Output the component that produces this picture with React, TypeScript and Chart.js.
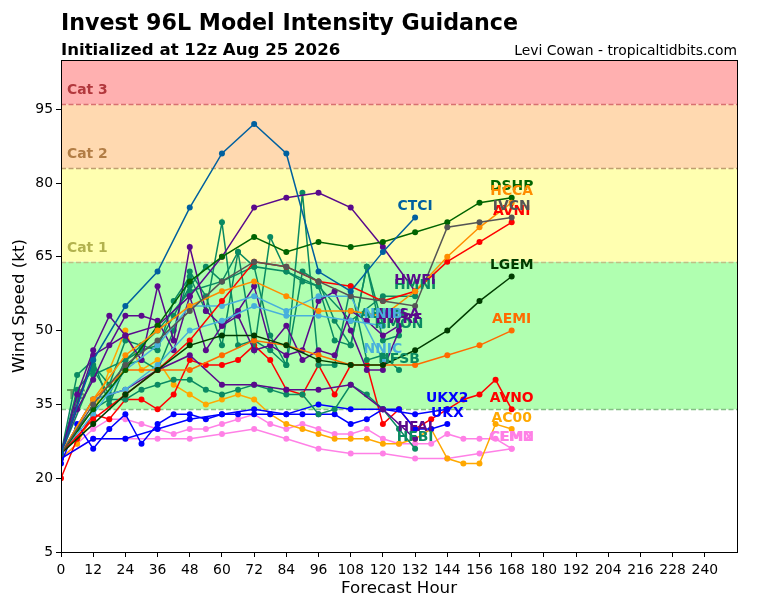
import React, { useEffect, useRef } from "react";
import { Chart, registerables } from "chart.js";

Chart.register(...registerables);

const H6 = [0, 6, 12, 18, 24, 30, 36, 42, 48, 54, 60, 66, 72, 78, 84, 90, 96, 102, 108, 114, 120, 126, 132, 138, 144, 150, 156, 162, 168];
const H12 = [0, 12, 24, 36, 48, 60, 72, 84, 96, 108, 120, 132, 144, 156, 168];

const X_TICKS = [0, 12, 24, 36, 48, 60, 72, 84, 96, 108, 120, 132, 144, 156, 168, 180, 192, 204, 216, 228, 240];
const Y_TICKS = [5, 20, 35, 50, 65, 80, 95];

// wind speed in kt, 6 hourly models
const HWRF = [25, 37, 46, 53, 49, 44, 59, 48, 67, 54, 51, 54, 59, 47, 45, 46, 56, 58, 50, 42, 42, 50];
const HFSA = [25, 34, 40, 47, 53, 53, 52, 46, 57, 46, 51, 53, 46, 47, 51, 44, 46, 45, 54, 52, 49, 51];
const HMON = [25, 41, 44, 35, 43, 44, 42, 50, 62, 57, 47, 66, 46, 69, 62, 60, 59, 48, 47, 63, 48, 49];
const HFSB = [25, 36, 43, 39, 48, 47, 46, 56, 61, 54, 72, 47, 48, 46, 43, 78, 43, 43, 59, 44, 45, 42];
const AEMN = [25, 38, 42, 37, 44, 46, 47, 53, 59, 63, 60, 66, 63, 49, 43, 62, 60, 52, 47, 63, 51];
const HFBI = [25, 30, 34, 36, 36, 38, 39, 40, 40, 38, 37, 38, 39, 38, 37, 37, 33, 34, 39, 37, 34, 30, 26];
const UKX = [23, 31, 26, 30, 33, 27, 31, 33, 33, 32, 33, 33, 33, 33, 33, 33, 33, 33, 31, 32, 34, 34, 30, 30, 31];
const AC00 = [24, 27, 33, 42, 50, 42, 44, 39, 37, 35, 36, 37, 36, 33, 31, 30, 29, 28, 28, 28, 27, 27, 28, 30, 24, 23, 23, 31, 30];
const AVNO = [20, 28, 33, 32, 36, 36, 34, 37, 44, 43, 43, 44, 47, 44, 38, 37, 43, 37, 43, 43, 31, 34, 30, 32, 34, 36, 37, 40, 34];
const CEMN = [24, 27, 30, 32, 32, 31, 30, 29, 30, 30, 31, 32, 33, 31, 30, 31, 30, 29, 29, 30, 28, 27, 27, 27, 29, 28, 28, 28, 26];

// 12 hourly models
const HWFI = [25, 45, 49, 51, 57, 65, 75, 77, 78, 75, 67, 58];
const HFAI = [25, 36, 38, 42, 45, 39, 39, 38, 38, 39, 34, 28];
const HMNI = [25, 41, 44, 50, 58, 60, 63, 62, 59, 52, 57, 57];
const IVCN = [25, 35, 43, 48, 54, 60, 64, 63, 60, 57, 56, 55, 71, 72, 73];
const HCCA = [25, 36, 45, 50, 55, 58, 60, 57, 54, 54, 53, 58, 65, 71, 76];
const AVNI = [25, 32, 37, 42, 48, 56, 64, 63, 60, 59, 56, 58, 64, 68, 72];
const AEMI = [25, 36, 42, 42, 42, 45, 48, 47, 45, 43, 43, 43, 45, 47, 50];
const LGEM = [25, 31, 37, 42, 47, 49, 49, 47, 44, 43, 43, 46, 50, 56, 61];
const DSHP = [25, 34, 42, 51, 60, 65, 69, 66, 68, 67, 68, 70, 72, 76, 77];
const CTCI = [25, 44, 55, 62, 75, 86, 92, 86, 62, 58, 66, 73];
const NNIB = [25, 36, 38, 43, 50, 52, 55, 53, 53, 52, 51];
const NNIC = [25, 33, 42, 47, 55, 55, 57, 54, 57, 57, 44];
const UKX2 = [24, 28, 28, 30, 32, 33, 34, 33, 35, 34, 34, 33, 34];
const CEM2 = [24, 28, 28, 28, 28, 29, 30, 28, 26, 25, 25, 24, 24, 25, 26];

const GREEN = "#0a8a62";
const PURPLE = "#5a0a8c";
const SKY = "#48b0dc";
const PINK = "#ff80e6";
const BLUE = "#0000ff";

const MODELS = [
  { name: "CEM2", color: PINK, hours: H12, values: CEM2 },
  { name: "CEMN", color: PINK, hours: H6, values: CEMN },
  { name: "AC00", color: "#ffa800", hours: H6, values: AC00 },
  { name: "AVNO", color: "#ff0000", hours: H6, values: AVNO },
  { name: "UKX", color: BLUE, hours: H6, values: UKX },
  { name: "UKX2", color: BLUE, hours: H12, values: UKX2 },
  { name: "AEMN", color: GREEN, hours: H6, values: AEMN },
  { name: "HFBI", color: GREEN, hours: H6, values: HFBI },
  { name: "HFSB", color: GREEN, hours: H6, values: HFSB },
  { name: "HMON", color: GREEN, hours: H6, values: HMON },
  { name: "HMNI", color: GREEN, hours: H12, values: HMNI },
  { name: "HFAI", color: PURPLE, hours: H12, values: HFAI },
  { name: "HFSA", color: PURPLE, hours: H6, values: HFSA },
  { name: "HWRF", color: PURPLE, hours: H6, values: HWRF },
  { name: "HWFI", color: PURPLE, hours: H12, values: HWFI },
  { name: "NNIC", color: SKY, hours: H12, values: NNIC },
  { name: "NNIB", color: SKY, hours: H12, values: NNIB },
  { name: "AEMI", color: "#ff6a00", hours: H12, values: AEMI },
  { name: "DSHP", color: "#006400", hours: H12, values: DSHP },
  { name: "AVNI", color: "#ff0000", hours: H12, values: AVNI },
  { name: "HCCA", color: "#ff8c00", hours: H12, values: HCCA },
  { name: "LGEM", color: "#003c00", hours: H12, values: LGEM },
  { name: "IVCN", color: "#555555", hours: H12, values: IVCN },
  { name: "CTCI", color: "#00609f", hours: H12, values: CTCI },
];

// intensity bands, from the floor up
const BAND_FLOORS = [34, 64, 83, 96];
const BAND_TOPS = [64, 83, 96, 105];
const BAND_NAMES = ["TS", "Cat 1", "Cat 2", "Cat 3"];
const BAND_FILLS = ["#b0ffb0", "#ffffb0", "#ffd9b0", "#ffb0b0"];
const BAND_LINES = ["#84bf84", "#bfbf84", "#bf9f70", "#d87070"];
const BAND_TEXT = ["#5f9a5f", "#b2b24e", "#b27d45", "#b2383d"];

const FONT = "'DejaVu Sans', sans-serif";

const bandsPlugin = {
  id: "bands",
  beforeDatasetsDraw(chart: Chart) {
    const { ctx, chartArea, scales } = chart;
    ctx.save();
    BAND_FLOORS.forEach((floor, i) => {
      const yBottom = scales.y.getPixelForValue(floor);
      const yTop = scales.y.getPixelForValue(BAND_TOPS[i]);
      ctx.fillStyle = BAND_FILLS[i];
      ctx.fillRect(chartArea.left, yTop, chartArea.width, yBottom - yTop);
    });
    BAND_FLOORS.forEach((floor, i) => {
      const y = Math.round(scales.y.getPixelForValue(floor)) + 0.5;
      ctx.strokeStyle = BAND_LINES[i];
      ctx.lineWidth = 1.5;
      ctx.setLineDash([5, 2.5]);
      ctx.beginPath();
      ctx.moveTo(chartArea.left, y);
      ctx.lineTo(chartArea.right, y);
      ctx.stroke();
      ctx.setLineDash([]);
      ctx.fillStyle = BAND_TEXT[i];
      ctx.font = `bold 13.9px ${FONT}`;
      ctx.textAlign = "left";
      ctx.textBaseline = "middle";
      ctx.fillText(BAND_NAMES[i], chartArea.left + 6, y - 14.5);
    });
    ctx.restore();
  },
};

const labelsPlugin = {
  id: "labels",
  afterDatasetsDraw(chart: Chart) {
    const { ctx, chartArea } = chart;
    ctx.save();
    ctx.font = `bold 13.9px ${FONT}`;
    ctx.textAlign = "center";
    ctx.textBaseline = "middle";
    MODELS.forEach((model, i) => {
      const points = chart.getDatasetMeta(i).data;
      const last = points[points.length - 1];
      ctx.fillStyle = model.color;
      ctx.fillText(model.name, last.x, last.y - 11);
    });
    // frame
    ctx.strokeStyle = "#000";
    ctx.lineWidth = 1;
    ctx.strokeRect(chartArea.left + 0.5, chartArea.top + 0.5, chartArea.width, chartArea.height);

    ctx.fillStyle = "#000";
    ctx.textAlign = "left";
    ctx.textBaseline = "alphabetic";
    ctx.font = `bold 22.2px ${FONT}`;
    ctx.fillText("Invest 96L Model Intensity Guidance", 61, 30);
    ctx.font = `bold 16.6px ${FONT}`;
    ctx.fillText("Initialized at 12z Aug 25 2026", 61, 55);
    ctx.font = `13.9px ${FONT}`;
    ctx.textAlign = "right";
    ctx.fillText("Levi Cowan - tropicaltidbits.com", 737, 55);
    ctx.restore();
  },
};

export default function App() {
  const canvasRef = useRef<HTMLCanvasElement | null>(null);

  useEffect(() => {
    const ctx = canvasRef.current?.getContext("2d");
    if (!ctx) return;

    const chart = new Chart(ctx, {
      type: "line",
      data: {
        // negative order so later models are drawn on top, like the reference
        datasets: MODELS.map((m, idx) => ({
          label: m.name,
          order: -idx,
          data: m.values.map((v, i) => ({ x: m.hours[i], y: v })),
          borderColor: m.color,
          backgroundColor: m.color,
          borderWidth: 1.5,
          pointRadius: 3,
          pointBorderWidth: 0,
          tension: 0,
          fill: false,
        })),
      },
      options: {
        responsive: false,
        animation: false,
        devicePixelRatio: 1,
        layout: { padding: { left: 0, top: 60, right: 31, bottom: 0 } },
        plugins: { legend: { display: false }, tooltip: { enabled: false }, title: { display: false } },
        scales: {
          x: {
            type: "linear",
            min: 0,
            max: 252,
            afterBuildTicks: (scale: any) => {
              scale.ticks = X_TICKS.map((value) => ({ value }));
            },
            afterFit: (scale: any) => {
              scale.height = 48;
            },
            ticks: {
              autoSkip: false,
              maxRotation: 0,
              padding: 5,
              color: "#000",
              font: { family: FONT, size: 13.9 },
            },
            grid: { drawOnChartArea: false, tickLength: 5, color: "#000" },
            border: { color: "#000" },
            title: {
              display: true,
              text: "Forecast Hour",
              color: "#000",
              font: { family: FONT, size: 16.7 },
              padding: { top: 0, bottom: 1 },
            },
          },
          y: {
            min: 5,
            max: 105,
            afterBuildTicks: (scale: any) => {
              scale.ticks = Y_TICKS.map((value) => ({ value }));
            },
            afterFit: (scale: any) => {
              scale.width = 61;
            },
            ticks: {
              padding: 3,
              color: "#000",
              font: { family: FONT, size: 13.9 },
            },
            grid: { drawOnChartArea: false, tickLength: 5, color: "#000" },
            border: { color: "#000" },
            title: {
              display: true,
              text: "Wind Speed (kt)",
              color: "#000",
              font: { family: FONT, size: 16.7 },
              padding: { top: 10, bottom: 0 },
            },
          },
        },
      },
      plugins: [bandsPlugin, labelsPlugin],
    });

    return () => {
      chart.destroy();
    };
  }, []);

  return (
    <div style={{ position: "absolute", left: 0, top: 0, width: 768, height: 600 }}>
      <canvas ref={canvasRef} width={768} height={600} />
    </div>
  );
}
